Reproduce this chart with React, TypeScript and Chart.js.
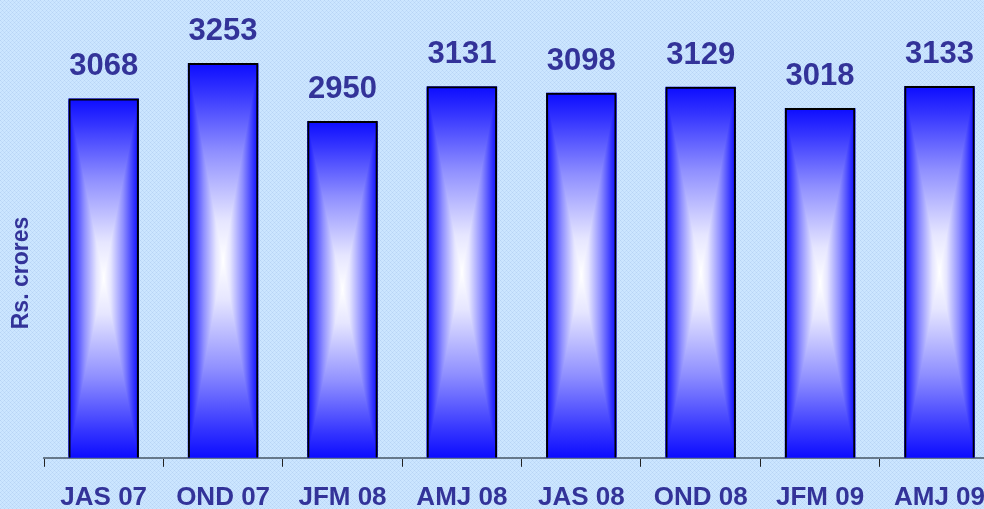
import React, { useEffect, useRef } from "react";
import { Chart, registerables } from "chart.js";

Chart.register(...registerables);

const categories = ["JAS 07", "OND 07", "JFM 08", "AMJ 08", "JAS 08", "OND 08", "JFM 09", "AMJ 09"];
const values = [3068, 3253, 2950, 3131, 3098, 3129, 3018, 3133];
const yTitle = "Rs. crores";
const yMin = 1190;
const yMax = 3530;

const TEXT = "#333399";

function makePattern(): CanvasPattern | string {
  const c = document.createElement("canvas");
  c.width = 4;
  c.height = 4;
  const g = c.getContext("2d");
  if (!g) return "#c6e0fb";
  g.fillStyle = "#cce6ff";
  g.fillRect(0, 0, 4, 4);
  g.fillStyle = "#b7d4f5";
  g.fillRect(0, 0, 1, 1);
  g.fillRect(2, 2, 1, 1);
  g.fillStyle = "#c1dcfa";
  g.fillRect(1, 1, 1, 1);
  g.fillRect(3, 3, 1, 1);
  g.fillRect(3, 1, 1, 1);
  g.fillRect(1, 3, 1, 1);
  const p = g.createPattern(c, "repeat");
  return p || "#c6e0fb";
}

function addStops(gr: CanvasGradient) {
  gr.addColorStop(0, "#0c0cff");
  gr.addColorStop(0.15, "#3535ff");
  gr.addColorStop(0.45, "#8f8fff");
  gr.addColorStop(0.8, "#e6e6ff");
  gr.addColorStop(1, "#ffffff");
}

const bgPlugin = {
  id: "bgPattern",
  beforeDraw(chart: any) {
    const ctx = chart.ctx;
    ctx.save();
    ctx.fillStyle = makePattern();
    ctx.fillRect(0, 0, chart.width, chart.height);
    ctx.fillStyle = TEXT;
    ctx.font = "bold 23px 'Liberation Sans', Arial, sans-serif";
    ctx.textAlign = "center";
    ctx.textBaseline = "middle";
    ctx.translate(22, 273);
    ctx.rotate(-Math.PI / 2);
    ctx.fillText(yTitle, 0, 0);
    ctx.restore();
  },
};

const gradientPlugin = {
  id: "rectGradient",
  beforeDatasetsDraw(chart: any) {
    const ctx = chart.ctx;
    const meta = chart.getDatasetMeta(0);
    meta.data.forEach((bar: any) => {
      const { x, y, base, width } = bar.getProps(["x", "y", "base", "width"], true);
      const L = x - width / 2;
      const R = x + width / 2;
      const T = y;
      const B = base;
      const cx = x;
      const cy = (T + B) / 2;
      ctx.save();
      const gTop = ctx.createLinearGradient(0, T, 0, cy);
      addStops(gTop);
      ctx.fillStyle = gTop;
      ctx.fillRect(L, T, R - L, cy - T);
      const gBot = ctx.createLinearGradient(0, B, 0, cy);
      addStops(gBot);
      ctx.fillStyle = gBot;
      ctx.fillRect(L, cy - 0.5, R - L, B - cy + 0.5);
      const gL = ctx.createLinearGradient(L, 0, cx, 0);
      addStops(gL);
      ctx.beginPath();
      ctx.moveTo(L, T);
      ctx.lineTo(cx, cy);
      ctx.lineTo(L, B);
      ctx.closePath();
      ctx.fillStyle = gL;
      ctx.fill();
      const gR = ctx.createLinearGradient(R, 0, cx, 0);
      addStops(gR);
      ctx.beginPath();
      ctx.moveTo(R, T);
      ctx.lineTo(cx, cy);
      ctx.lineTo(R, B);
      ctx.closePath();
      ctx.fillStyle = gR;
      ctx.fill();
      ctx.restore();
    });
  },
  afterDatasetsDraw(chart: any) {
    const ctx = chart.ctx;
    const meta = chart.getDatasetMeta(0);
    ctx.save();
    ctx.fillStyle = TEXT;
    ctx.font = "bold 31px 'Liberation Sans', Arial, sans-serif";
    ctx.textAlign = "center";
    ctx.textBaseline = "alphabetic";
    meta.data.forEach((bar: any, i: number) => {
      ctx.fillText(String(values[i]), bar.x, bar.y - 23);
    });
    ctx.restore();
  },
};

export default function App() {
  const ref = useRef<HTMLCanvasElement | null>(null);
  useEffect(() => {
    if (!ref.current) return;
    document.body.style.margin = "0";
    document.body.style.overflow = "hidden";
    const chart = new Chart(ref.current, {
      type: "bar",
      data: {
        labels: categories,
        datasets: [
          {
            data: values,
            base: yMin,
            backgroundColor: "rgba(0,0,0,0)",
            borderColor: "#000000",
            borderWidth: { top: 2, left: 2, right: 2, bottom: 0 },
            borderSkipped: "start",
            barPercentage: 0.59,
            categoryPercentage: 1,
          },
        ],
      },
      options: {
        responsive: false,
        maintainAspectRatio: false,
        animation: false,
        devicePixelRatio: 1,
        layout: { padding: { left: 44, right: 0, top: 10, bottom: 0 } },
        plugins: { legend: { display: false }, tooltip: { enabled: false }, title: { display: false } },
        scales: {
          x: {
            offset: true,
            grid: {
              display: true,
              offset: true,
              drawOnChartArea: false,
              drawTicks: true,
              tickLength: 9,
              color: "#222222",
              lineWidth: 1,
            },
            border: { display: true, color: "#66788a", width: 2 },
            ticks: {
              color: TEXT,
              font: { family: "'Liberation Sans', Arial, sans-serif", size: 26, weight: "bold" },
              padding: 15,
              maxRotation: 0,
              autoSkip: false,
            },
          },
          y: {
            display: false,
            min: yMin,
            max: yMax,
          },
        },
      },
      plugins: [bgPlugin, gradientPlugin],
    });
    return () => chart.destroy();
  }, []);
  return (
    <div style={{ position: "fixed", left: 0, top: 0, width: 984, height: 509, overflow: "hidden", background: "#c6e0fb" }}>
      <canvas ref={ref} width={1000} height={528} style={{ display: "block", width: 1000, height: 528 }} />
    </div>
  );
}
